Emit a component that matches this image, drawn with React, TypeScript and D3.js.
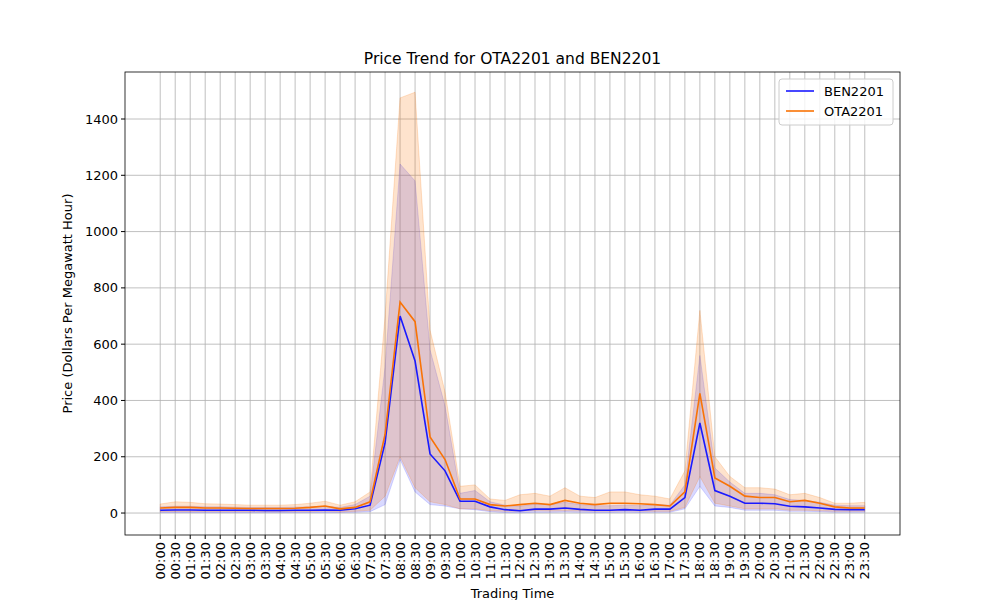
import React, { useEffect, useRef } from 'react';
import * as d3 from 'd3';

const times = d3.range(48).map(i => `${String(Math.floor(i / 2)).padStart(2, '0')}:${i % 2 ? '30' : '00'}`);

const benMean = [10, 11, 11, 10, 10, 10, 10, 9, 9, 10, 10, 11, 10, 15, 28, 250, 700, 540, 210, 150, 42, 42, 22, 12, 8, 14, 14, 18, 13, 10, 10, 12, 10, 14, 14, 55, 320, 80, 60, 35, 35, 33, 24, 22, 18, 13, 12, 12];
const benHigh = [22, 24, 24, 22, 22, 21, 20, 20, 20, 21, 22, 24, 20, 30, 60, 520, 1240, 1180, 580, 380, 70, 80, 40, 28, 24, 32, 30, 38, 30, 26, 26, 28, 26, 30, 28, 100, 560, 160, 110, 70, 70, 65, 48, 45, 38, 28, 26, 26];
const benLow = [2, 2, 2, 2, 2, 2, 2, 2, 2, 2, 2, 2, 2, 3, 5, 30, 190, 75, 30, 25, 15, 12, 5, 2, 1, 3, 3, 4, 3, 2, 2, 3, 2, 3, 3, 15, 95, 25, 20, 10, 10, 10, 6, 6, 5, 3, 3, 3];
const otaMean = [18, 20, 20, 18, 18, 17, 16, 16, 16, 17, 20, 25, 15, 20, 40, 280, 750, 680, 270, 190, 50, 50, 30, 25, 30, 35, 30, 45, 35, 30, 35, 35, 33, 30, 25, 75, 425, 125, 95, 60, 55, 55, 40, 45, 35, 22, 18, 18];
const otaHigh = [32, 40, 38, 33, 32, 30, 28, 28, 28, 30, 35, 42, 28, 40, 75, 700, 1475, 1495, 650, 430, 95, 100, 50, 45, 65, 70, 60, 90, 60, 55, 75, 75, 65, 60, 50, 150, 720, 200, 130, 90, 90, 85, 65, 70, 55, 35, 35, 38];
const otaLow = [5, 5, 5, 5, 5, 5, 5, 5, 5, 5, 5, 6, 4, 6, 10, 60, 200, 90, 40, 30, 15, 15, 8, 6, 6, 8, 7, 8, 7, 6, 6, 7, 6, 6, 6, 20, 130, 35, 25, 15, 15, 15, 10, 10, 8, 6, 6, 6];
const yTicks = [0, 200, 400, 600, 800, 1000, 1200, 1400];

const series = [
  { name: 'BEN2201', color: '#1a1aff', fill: '#4040ff', mean: benMean, high: benHigh, low: benLow },
  { name: 'OTA2201', color: '#f97306', fill: '#f97306', mean: otaMean, high: otaHigh, low: otaLow },
];

export default function App() {
  const ref = useRef<SVGSVGElement>(null);

  useEffect(() => {
    const svg = d3.select(ref.current!);
    svg.selectAll('*').remove();
    const L = 125, R = 900, T = 72, B = 535;
    const x = d3.scaleLinear().domain([-2.35, 49.35]).range([L, R]);
    const y = d3.scaleLinear().domain([-78, 1567]).range([B, T]);
    const font = 'DejaVu Sans, sans-serif';

    const grid = svg.append('g').attr('stroke', '#b0b0b0').attr('stroke-width', 0.8);
    times.forEach((_, i) => grid.append('line').attr('x1', x(i)).attr('x2', x(i)).attr('y1', T).attr('y2', B));
    yTicks.forEach(v => grid.append('line').attr('x1', L).attr('x2', R).attr('y1', y(v)).attr('y2', y(v)));

    series.forEach(s => {
      const area = d3.area<number>().x((_, i) => x(i)).y0((_, i) => y(s.low[i])).y1(d => y(d));
      svg.append('path').attr('d', area(s.high)).attr('fill', s.fill).attr('fill-opacity', 0.2).attr('stroke', s.fill).attr('stroke-opacity', 0.2);
    });
    series.forEach(s => {
      const line = d3.line<number>().x((_, i) => x(i)).y(d => y(d));
      svg.append('path').attr('d', line(s.mean)).attr('fill', 'none').attr('stroke', s.color).attr('stroke-width', 1.6);
    });

    svg.append('rect').attr('x', L).attr('y', T).attr('width', R - L).attr('height', B - T).attr('fill', 'none').attr('stroke', '#000').attr('stroke-width', 0.8);

    const ax = svg.append('g').attr('font-family', font).attr('font-size', 13);
    times.forEach((t, i) => {
      ax.append('line').attr('x1', x(i)).attr('x2', x(i)).attr('y1', B).attr('y2', B + 4).attr('stroke', '#000');
      ax.append('text').attr('transform', `translate(${x(i) + 4.5},${B + 7}) rotate(-90)`).attr('text-anchor', 'end').text(t);
    });
    yTicks.forEach(v => {
      ax.append('line').attr('x1', L - 4).attr('x2', L).attr('y1', y(v)).attr('y2', y(v)).attr('stroke', '#000');
      ax.append('text').attr('x', L - 7).attr('y', y(v) + 4.5).attr('text-anchor', 'end').text(v);
    });
    ax.append('text').attr('x', (L + R) / 2).attr('y', 598).attr('text-anchor', 'middle').text('Trading Time');
    ax.append('text').attr('transform', `translate(72,${(T + B) / 2}) rotate(-90)`).attr('text-anchor', 'middle').text('Price (Dollars Per Megawatt Hour)');
    ax.append('text').attr('x', (L + R) / 2).attr('y', 64).attr('text-anchor', 'middle').attr('font-size', 15.5).text('Price Trend for OTA2201 and BEN2201');

    const lg = svg.append('g').attr('font-family', font).attr('font-size', 13);
    lg.append('rect').attr('x', 779).attr('y', 79).attr('width', 114).attr('height', 46).attr('rx', 3).attr('fill', '#fff').attr('fill-opacity', 0.8).attr('stroke', '#ccc');
    series.forEach((s, i) => {
      const yy = 91 + i * 20;
      lg.append('line').attr('x1', 786).attr('x2', 814).attr('y1', yy).attr('y2', yy).attr('stroke', s.color).attr('stroke-width', 1.6);
      lg.append('text').attr('x', 824).attr('y', yy + 4.5).text(s.name);
    });
  }, []);

  return <svg ref={ref} width={1000} height={600} style={{ position: 'absolute', left: 0, top: 0 }} />;
}
